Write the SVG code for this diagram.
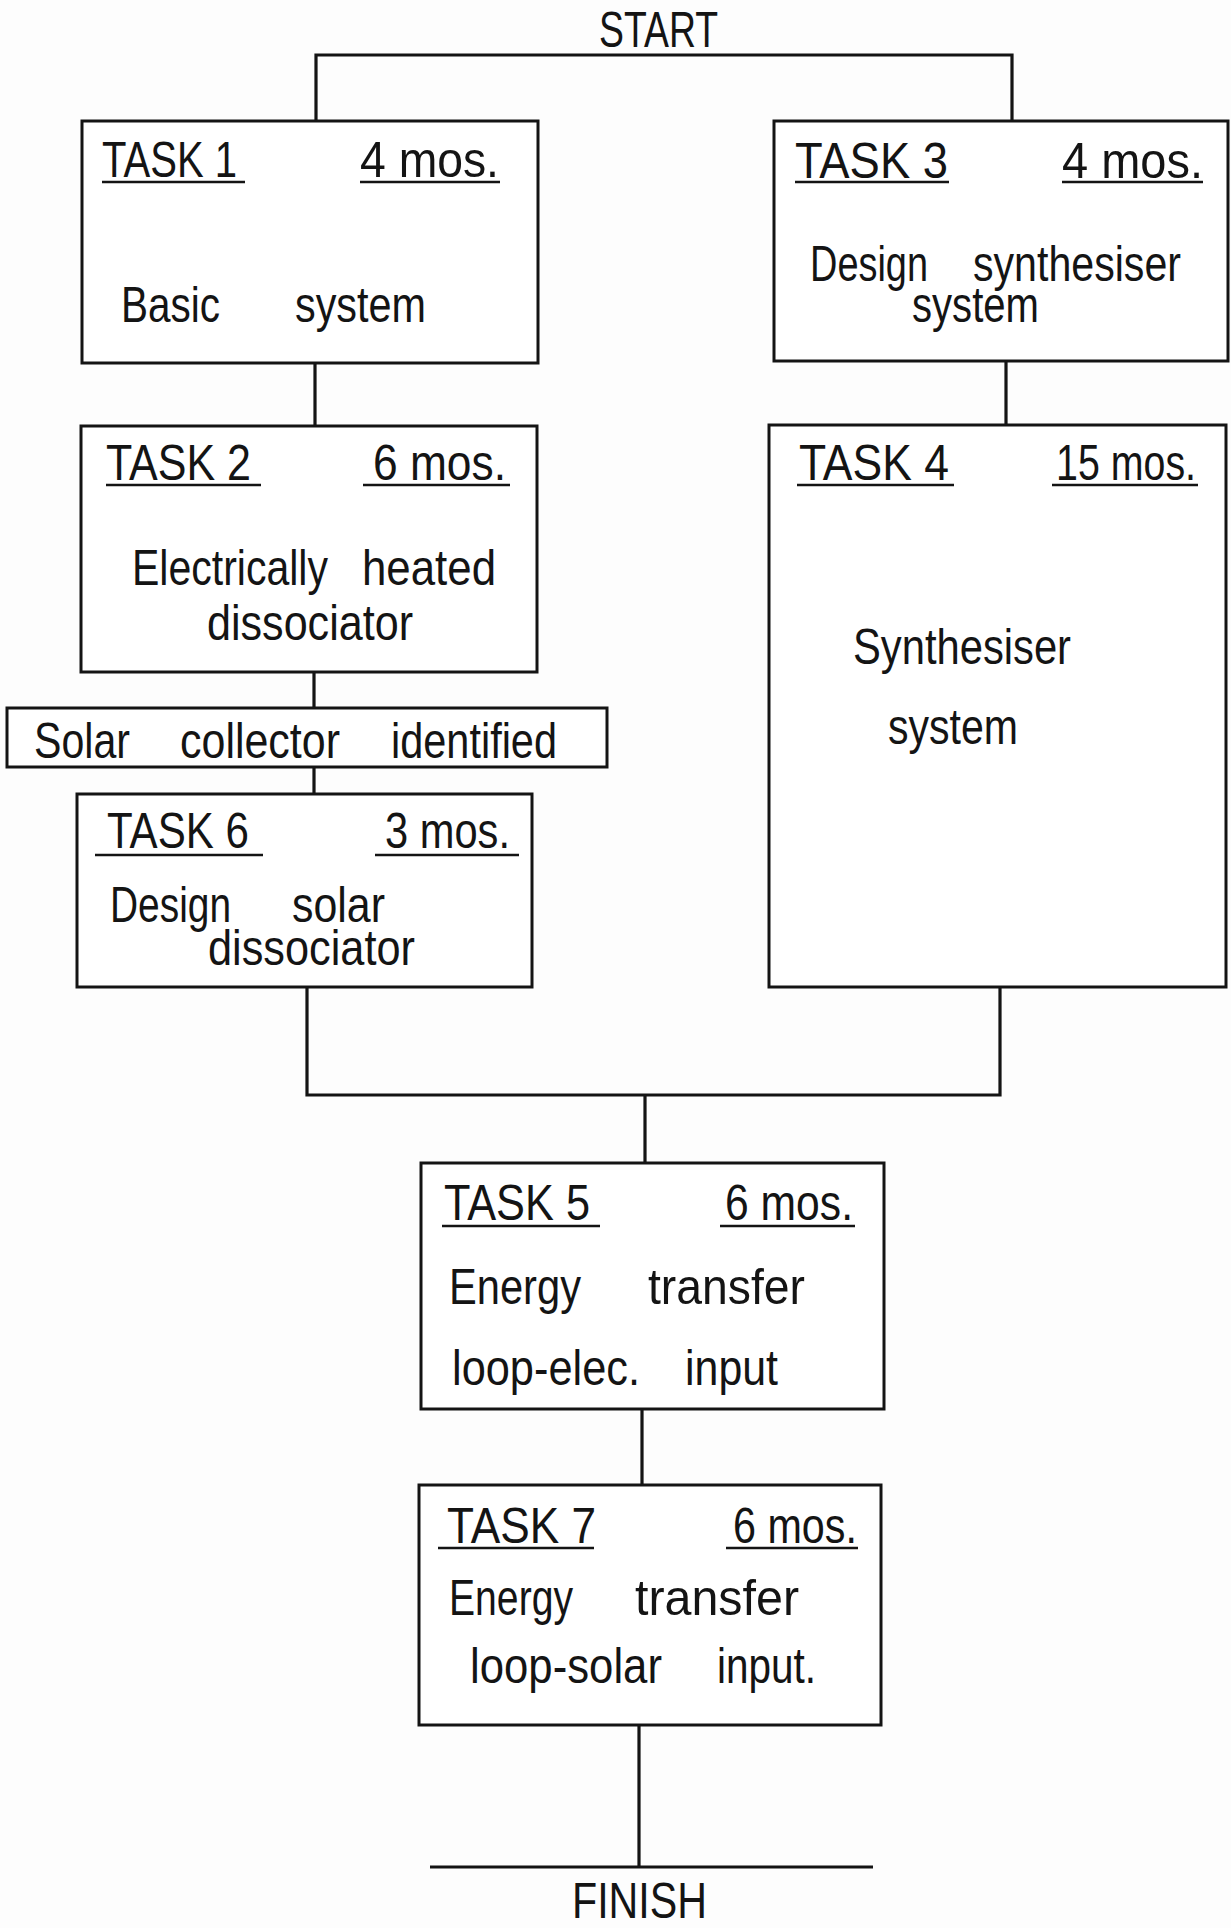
<svg xmlns="http://www.w3.org/2000/svg" width="1231" height="1928" viewBox="0 0 1231 1928">
<style>
.box{fill:#fff;stroke:#141414;stroke-width:3}
.conn{fill:none;stroke:#141414;stroke-width:3.2}
.ul{stroke:#141414;stroke-width:2.5}
.t{font-family:"Liberation Sans",Arial,sans-serif;font-size:50px;fill:#141414}
</style>
<rect x="0" y="0" width="1231" height="1928" fill="#fdfdfd"/>
<g id="connectors">
<path class="conn" d="M316,121 V55 H1012 V121"/>
<path class="conn" d="M315,363 V426"/>
<path class="conn" d="M314,672 V708"/>
<path class="conn" d="M314,767 V794"/>
<path class="conn" d="M1006,361 V425"/>
<path class="conn" d="M307,987 V1095 H1000 V987"/>
<path class="conn" d="M645,1095 V1163"/>
<path class="conn" d="M642,1409 V1485"/>
<path class="conn" d="M639,1725 V1867"/>
<path class="conn" d="M430,1867 H873"/>
</g>
<g id="start"><text class="t" x="599" y="47" textLength="119" lengthAdjust="spacingAndGlyphs">START</text></g>
<g id="finish"><text class="t" x="572" y="1918" textLength="135" lengthAdjust="spacingAndGlyphs">FINISH</text></g>
<g id="task1">
<rect class="box" x="82" y="121" width="456" height="242"/>
<text class="t" x="102" y="177" textLength="135" lengthAdjust="spacingAndGlyphs">TASK 1</text>
<line class="ul" x1="102" y1="182" x2="245" y2="182"/>
<text class="t" x="360" y="177" textLength="139" lengthAdjust="spacingAndGlyphs">4 mos.</text>
<line class="ul" x1="360" y1="182" x2="500" y2="182"/>
<text class="t" y="322"><tspan x="121" textLength="99" lengthAdjust="spacingAndGlyphs">Basic</tspan> <tspan x="295" textLength="131" lengthAdjust="spacingAndGlyphs">system</tspan></text>
</g>
<g id="task3">
<rect class="box" x="774" y="121" width="454" height="240"/>
<text class="t" x="795" y="178" textLength="153" lengthAdjust="spacingAndGlyphs">TASK 3</text>
<line class="ul" x1="795" y1="182" x2="949" y2="182"/>
<text class="t" x="1062" y="178" textLength="141" lengthAdjust="spacingAndGlyphs">4 mos.</text>
<line class="ul" x1="1062" y1="182" x2="1203" y2="182"/>
<text class="t" y="281"><tspan x="810" textLength="118" lengthAdjust="spacingAndGlyphs">Design</tspan> <tspan x="973" textLength="208" lengthAdjust="spacingAndGlyphs">synthesiser</tspan></text>
<text class="t" x="912" y="322" textLength="127" lengthAdjust="spacingAndGlyphs">system</text>
</g>
<g id="task2">
<rect class="box" x="81" y="426" width="456" height="246"/>
<text class="t" x="106" y="480" textLength="145" lengthAdjust="spacingAndGlyphs">TASK 2</text>
<line class="ul" x1="106" y1="485" x2="261" y2="485"/>
<text class="t" x="373" y="480" textLength="133" lengthAdjust="spacingAndGlyphs">6 mos.</text>
<line class="ul" x1="363" y1="485" x2="510" y2="485"/>
<text class="t" y="585"><tspan x="132" textLength="196" lengthAdjust="spacingAndGlyphs">Electrically</tspan> <tspan x="362" textLength="134" lengthAdjust="spacingAndGlyphs">heated</tspan></text>
<text class="t" x="207" y="640" textLength="206" lengthAdjust="spacingAndGlyphs">dissociator</text>
</g>
<g id="solar">
<rect class="box" x="7" y="708" width="600" height="59"/>
<text class="t" y="758"><tspan x="34" textLength="96" lengthAdjust="spacingAndGlyphs">Solar</tspan> <tspan x="180" textLength="160" lengthAdjust="spacingAndGlyphs">collector</tspan> <tspan x="391" textLength="166" lengthAdjust="spacingAndGlyphs">identified</tspan></text>
</g>
<g id="task6">
<rect class="box" x="77" y="794" width="455" height="193"/>
<text class="t" x="107" y="848" textLength="142" lengthAdjust="spacingAndGlyphs">TASK 6</text>
<line class="ul" x1="95" y1="855" x2="263" y2="855"/>
<text class="t" x="385" y="848" textLength="125" lengthAdjust="spacingAndGlyphs">3 mos.</text>
<line class="ul" x1="375" y1="855" x2="519" y2="855"/>
<text class="t" y="922"><tspan x="110" textLength="121" lengthAdjust="spacingAndGlyphs">Design</tspan> <tspan x="292" textLength="93" lengthAdjust="spacingAndGlyphs">solar</tspan></text>
<text class="t" x="208" y="965" textLength="207" lengthAdjust="spacingAndGlyphs">dissociator</text>
</g>
<g id="task4">
<rect class="box" x="769" y="425" width="457" height="562"/>
<text class="t" x="799" y="480" textLength="150" lengthAdjust="spacingAndGlyphs">TASK 4</text>
<line class="ul" x1="797" y1="485" x2="954" y2="485"/>
<text class="t" x="1056" y="480" textLength="140" lengthAdjust="spacingAndGlyphs">15 mos.</text>
<line class="ul" x1="1052" y1="485" x2="1198" y2="485"/>
<text class="t" x="853" y="664" textLength="218" lengthAdjust="spacingAndGlyphs">Synthesiser</text>
<text class="t" x="888" y="744" textLength="130" lengthAdjust="spacingAndGlyphs">system</text>
</g>
<g id="task5">
<rect class="box" x="421" y="1163" width="463" height="246"/>
<text class="t" x="444" y="1220" textLength="146" lengthAdjust="spacingAndGlyphs">TASK 5</text>
<line class="ul" x1="442" y1="1226" x2="600" y2="1226"/>
<text class="t" x="725" y="1220" textLength="128" lengthAdjust="spacingAndGlyphs">6 mos.</text>
<line class="ul" x1="720" y1="1226" x2="855" y2="1226"/>
<text class="t" y="1304"><tspan x="449" textLength="132" lengthAdjust="spacingAndGlyphs">Energy</tspan> <tspan x="648" textLength="157" lengthAdjust="spacingAndGlyphs">transfer</tspan></text>
<text class="t" y="1385"><tspan x="452" textLength="188" lengthAdjust="spacingAndGlyphs">loop-elec.</tspan> <tspan x="685" textLength="93" lengthAdjust="spacingAndGlyphs">input</tspan></text>
</g>
<g id="task7">
<rect class="box" x="419" y="1485" width="462" height="240"/>
<text class="t" x="447" y="1543" textLength="149" lengthAdjust="spacingAndGlyphs">TASK 7</text>
<line class="ul" x1="438" y1="1548" x2="594" y2="1548"/>
<text class="t" x="733" y="1543" textLength="124" lengthAdjust="spacingAndGlyphs">6 mos.</text>
<line class="ul" x1="726" y1="1548" x2="858" y2="1548"/>
<text class="t" y="1615"><tspan x="449" textLength="124" lengthAdjust="spacingAndGlyphs">Energy</tspan> <tspan x="635" textLength="164" lengthAdjust="spacingAndGlyphs">transfer</tspan></text>
<text class="t" y="1683"><tspan x="470" textLength="192" lengthAdjust="spacingAndGlyphs">loop-solar</tspan> <tspan x="717" textLength="99" lengthAdjust="spacingAndGlyphs">input.</tspan></text>
</g>
</svg>
